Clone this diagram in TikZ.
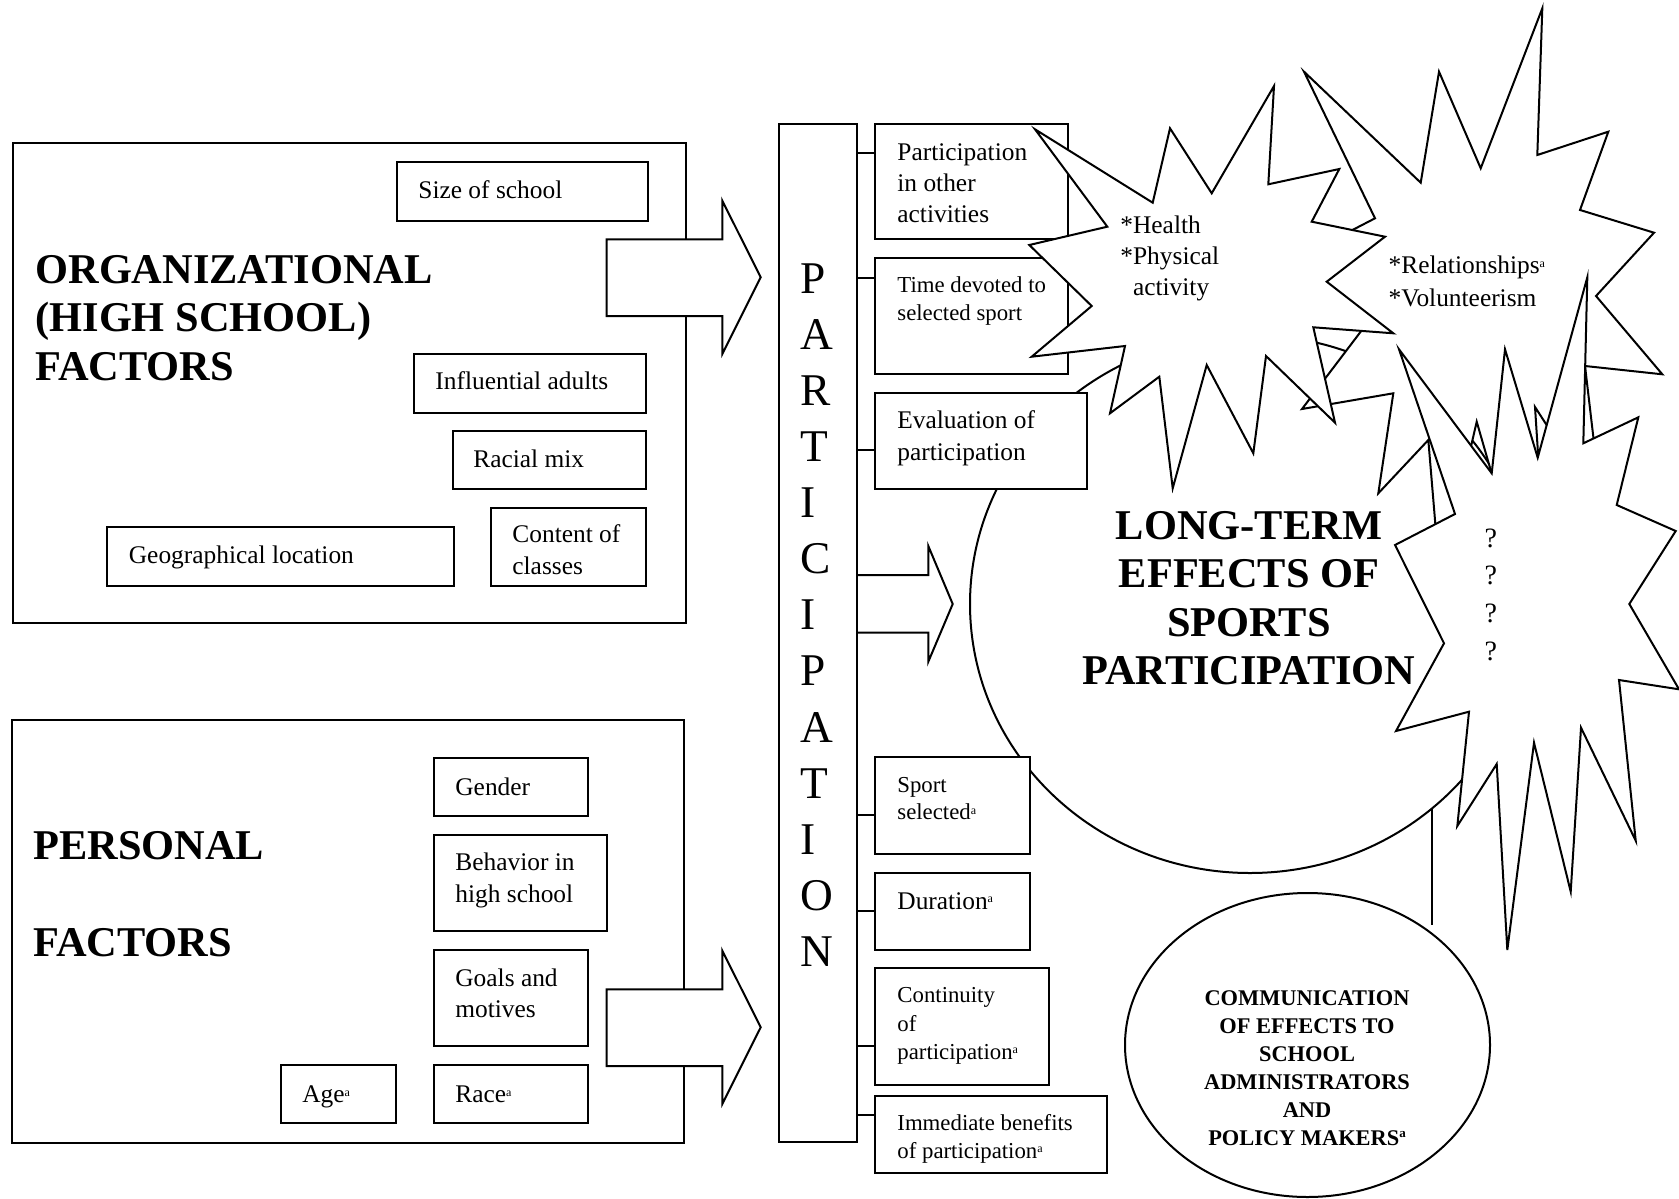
\documentclass[tikz,border=0pt]{standalone}
\usepackage{fontspec}
\setmainfont{Liberation Serif}
\usetikzlibrary{fit,shapes.geometric}
\newcommand{\fl}{\rule{0pt}{1em}}
\newcommand{\supa}{\raisebox{0.55ex}{\fontsize{6}{6}\selectfont a}}
\newcommand{\supab}{\raisebox{0.7ex}{\fontsize{6.5}{6.5}\selectfont\bfseries a}}
\newcommand{\fn}{\fontsize{12.7}{15.4}\selectfont}
\newcommand{\fsm}{\fontsize{11.4}{13.85}\selectfont}
\newcommand{\mkbox}[5]{\node[box, fit={(#2,#3) (#4,#5)}] (#1) {};}
\tikzset{
  box/.style={draw, line width=1pt, fill=white, inner sep=0pt},
  txt/.style={inner sep=0pt, anchor=north west, align=left},
  ctxt/.style={inner sep=0pt, anchor=north, align=center},
  ln/.style={line width=1pt},
  burst/.style={draw, fill=white, line width=1pt},
  blockarrow/.style={draw, fill=white, line width=1pt},
}
\begin{document}
\begin{tikzpicture}[x=0.5pt, y=-0.5pt]
\useasboundingbox (0,0) rectangle (1679,1198);

% ---------- organizational factors ----------
\mkbox{org}{13}{143}{686}{623}
\node[txt, font=\fontsize{21.2}{24.3}\selectfont\bfseries] (orgt) at (35,240.3) {\fl ORGANIZATIONAL\\(HIGH SCHOOL)\\FACTORS};
\mkbox{size}{397}{162.3}{648}{220.7}
\node[txt, font=\fn] (sizet) at (418,172.9) {\fl Size of school};
\mkbox{infl}{414}{354}{646}{413}
\node[txt, font=\fn] (inflt) at (435,363.9) {\fl Influential adults};
\mkbox{racial}{453}{431}{646}{489}
\node[txt, font=\fn] (racialt) at (473,441.3) {\fl Racial mix};
\mkbox{content}{491}{508}{646}{586}
\node[txt, font=\fontsize{12.7}{16}\selectfont] (contentt) at (512,516.9) {\fl Content of\\classes};
\mkbox{geo}{107}{527}{454}{586}
\node[txt, font=\fn] (geot) at (128.5,537.3) {\fl Geographical location};

% ---------- personal factors ----------
\mkbox{pers}{12}{720}{684}{1143}
\node[txt, font=\fontsize{21.2}{24.3}\selectfont\bfseries] (perst) at (33,816.6) {\fl PERSONAL\\\mbox{}\\FACTORS};
\mkbox{gender}{434}{758}{588}{816}
\node[txt, font=\fn] (gendert) at (455,769.6) {\fl Gender};
\mkbox{behav}{434}{835}{607}{931}
\node[txt, font=\fontsize{12.7}{16}\selectfont] (behavt) at (455,844.6) {\fl Behavior in\\high school};
\mkbox{goals}{434}{950}{588}{1046}
\node[txt, font=\fontsize{12.7}{15.6}\selectfont] (goalst) at (455,960.6) {\fl Goals and\\motives};
\mkbox{race}{434}{1065}{588}{1123}
\node[txt, font=\fn] (racet) at (455,1076.6) {\fl Race\supa};
\mkbox{age}{281}{1065}{396}{1123}
\node[txt, font=\fn] (aget) at (302,1076.6) {\fl Age\supa};

% ---------- block arrows into participation ----------
\draw[blockarrow] (606.7,239.3) -- (722.3,239.3) -- (722.3,200.7) -- (760.7,277.3)
  -- (722.3,354) -- (722.3,316) -- (606.7,316) -- cycle;
\draw[blockarrow] (606.7,989.3) -- (722.3,989.3) -- (722.3,950.7) -- (760.7,1027.3)
  -- (722.3,1104) -- (722.3,1066) -- (606.7,1066) -- cycle;

% ---------- participation column ----------
\mkbox{col}{779}{124}{857}{1142}
\node[txt, font=\fontsize{22.7}{28.04}\selectfont] (colt) at (800,247.6) {\fl P\\A\\R\\T\\I\\C\\I\\P\\A\\T\\I\\O\\N};

% ---------- long-term effects ellipse ----------
\node[draw, ellipse, line width=1pt, minimum width=280pt, minimum height=269pt, inner sep=0pt] (lt) at (1250,604) {};

% ---------- participation elements ----------
\mkbox{p1}{875}{124}{1068}{239}
\mkbox{p2}{875}{258}{1068}{374}
\mkbox{p3}{875}{393}{1087}{489}
\mkbox{p4}{875}{757}{1030}{854}
\mkbox{p5}{875}{873}{1030}{950}
\mkbox{p6}{875}{968}{1049}{1085}
\mkbox{p7}{875}{1096}{1107}{1173}
\draw[ln] (col.east |- 0,153) -- (p1.west |- 0,153);
\draw[ln] (col.east |- 0,278) -- (p2.west |- 0,278);
\draw[ln] (col.east |- 0,450) -- (p3.west |- 0,450);
\draw[ln] (col.east |- 0,815) -- (p4.west |- 0,815);
\draw[ln] (col.east |- 0,911) -- (p5.west |- 0,911);
\draw[ln] (col.east |- 0,1046) -- (p6.west |- 0,1046);
\draw[ln] (col.east |- 0,1115) -- (p7.west |- 0,1115);
\node[txt, font=\fontsize{12.7}{15.4}\selectfont] (p1t) at (897,134.6) {\fl Participation\\in other\\activities};
\node[txt, font=\fsm] (p2t) at (897,269.5) {\fl Time devoted to\\selected sport};
\node[txt, font=\fontsize{12.7}{15.85}\selectfont] (p3t) at (897,402.9) {\fl Evaluation of\\participation};
\node[txt, font=\fsm] (p4t) at (897,768.9) {\fl Sport\\selected\supa};
\node[txt, font=\fn] (p5t) at (897,883.6) {\fl Duration\supa};
\node[txt, font=\fontsize{11.4}{14.2}\selectfont] (p6t) at (897,979.5) {\fl Continuity\\of\\participation\supa};
\node[txt, font=\fsm] (p7t) at (897,1107.2) {\fl Immediate benefits\\of participation\supa};

% ---------- arrow into long-term effects ----------
\draw[blockarrow] (col.east |- 0,575) -- (928.3,575) -- (928.3,546) -- (952.7,604)
  -- (928.3,661.7) -- (928.3,632.7) -- (col.east |- 0,632.7);

% ---------- bursts ----------
% burst 2 (relationships)
\draw[burst] (1304,71.7) -- (1420.7,182.7) -- (1439,71.7) -- (1480.7,168.3) -- (1542.3,8.3)
  -- (1537.3,155) -- (1608.3,131.7) -- (1580,210) -- (1654,232.7) -- (1596,296)
  -- (1662.3,374.3) -- (1585,366) -- (1602,511) -- (1535,407) -- (1553,686)
  -- (1476.7,421.7) -- (1440,580) -- (1428.3,440) -- (1378.3,493.3) -- (1393.3,393.3)
  -- (1302,409) -- (1368,322) -- (1285,265) -- (1375,218.3) -- cycle;
% burst 1 (health)
\draw[burst] (1035,129.3) -- (1152.7,202.7) -- (1170,128.3) -- (1211.7,193.3) -- (1274,86)
  -- (1268.3,184.3) -- (1339.3,169) -- (1311.7,221.7) -- (1385,236.7) -- (1326.7,281.7)
  -- (1393.3,333.3) -- (1313.3,327.3) -- (1335,422.7) -- (1266,356) -- (1253.3,453.3)
  -- (1206.7,365) -- (1172.7,488.3) -- (1159.3,376.7) -- (1110,413.3) -- (1125,346)
  -- (1031.7,356.7) -- (1091.7,306) -- (1029.3,245) -- (1107.3,226.7) -- cycle;
% burst 3 (question marks)
\draw[burst] (1399,349.3) -- (1491.7,473.3) -- (1505,349.3) -- (1537.7,457.7) -- (1587.3,277.3)
  -- (1583.3,443.3) -- (1638.3,417.3) -- (1616.7,505) -- (1675.7,531) -- (1629.3,604)
  -- (1679,689.3) -- (1619,680) -- (1635.7,840.7) -- (1581,727.7) -- (1570.7,891.7)
  -- (1534,742.7) -- (1507.3,950) -- (1496.7,764) -- (1457.3,826) -- (1469,711.7)
  -- (1396,731) -- (1444,643.3) -- (1395,545) -- (1455,514) -- cycle;

\node[txt, font=\fontsize{12.7}{15.6}\selectfont] (s1t) at (1120,207.3) {\fl *Health\\*Physical\\\hspace*{6.3pt}activity};
\node[txt, font=\fontsize{12.7}{16.35}\selectfont] (s2t) at (1388.3,247.9) {\fl *Relationships\supa\\*Volunteerism};
\node[ctxt, font=\fontsize{14}{18.9}\selectfont] (s3t) at (1490.7,518.7) {\fl ?\\?\\?\\?};

\node[ctxt, font=\fontsize{21.2}{24.15}\selectfont\bfseries] (ltt) at (1249,496.6) {\fl LONG-TERM\\EFFECTS OF\\SPORTS\\PARTICIPATION};

% ---------- communication ----------
\node[draw, ellipse, line width=1pt, minimum width=182.5pt, minimum height=152pt, inner sep=0pt] (comm) at (1307.5,1045) {};
\node[ctxt, font=\fontsize{11.2}{14}\selectfont\bfseries] (commt) at (1307,982.2) {\fl COMMUNICATION\\OF EFFECTS TO\\SCHOOL\\ADMINISTRATORS\\AND\\POLICY MAKERS\supab};
\coordinate (ltb) at (1432,808);
\coordinate (commtop) at (1432,925);
\draw[ln] (ltb) -- (commtop);
\end{tikzpicture}
\end{document}
